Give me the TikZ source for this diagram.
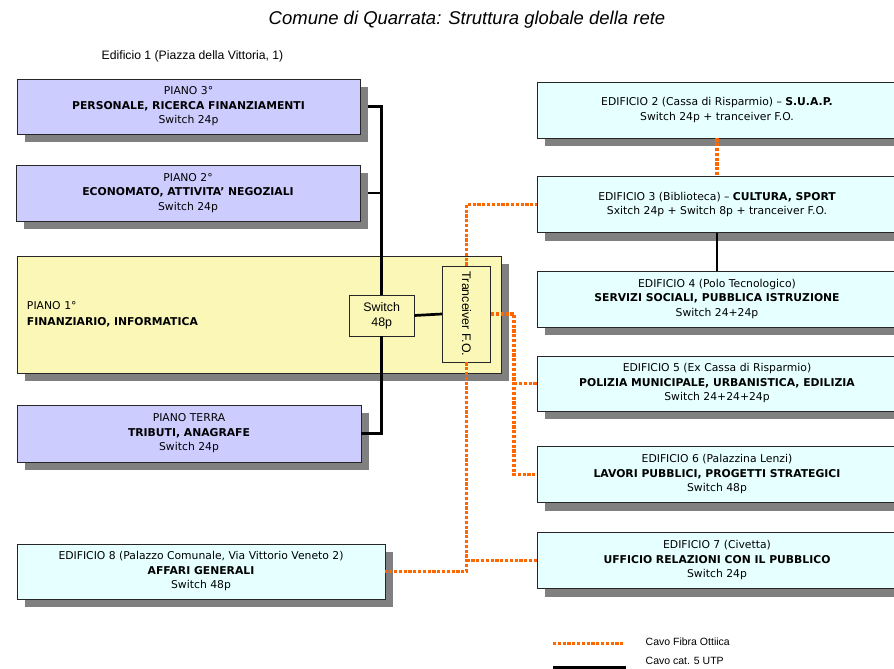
\documentclass[tikz,border=0pt]{standalone}
\usepackage{fontspec}
\setmainfont{DejaVu Sans}
\newfontfamily\arialFont{Liberation Sans}
\usepackage{graphicx}
\usetikzlibrary{arrows.meta, positioning, shadows}
\definecolor{lilla}{RGB}{204,204,255}
\definecolor{giallo}{RGB}{250,247,183}
\definecolor{azzurro}{RGB}{230,255,255}
\definecolor{ombra}{RGB}{128,128,128}
\definecolor{arancio}{RGB}{255,102,0}

\begin{document}
\begin{tikzpicture}[x=1pt, y=-1pt, thick]
      \tikzstyle{boxNode} = [rectangle, draw=black!85, line width=0.8pt, align=center, inner sep=0pt, font=\fontsize{10.8}{14.5}\selectfont, drop shadow={shadow xshift=8pt, shadow yshift=-8pt, fill=ombra, opacity=1, draw=none}]
      \tikzstyle{pianoNode} = [boxNode, fill=lilla, minimum width=344pt, minimum height=56pt]
      \tikzstyle{edificioNode} = [boxNode, fill=azzurro, minimum width=360pt, minimum height=56pt]
      \tikzstyle{innerNode} = [rectangle, draw=black!85, line width=0.8pt, fill=giallo, align=center, inner sep=0pt, font=\arialFont\fontsize{12.4}{15}\selectfont]
      \tikzstyle{utpLine} = [draw=black, line width=2.7pt]
      \tikzstyle{fibraLine} = [draw=arancio, line width=3.9pt, dash pattern=on 3.2pt off 1.6pt]
      \tikzstyle{labelNode} = [font=\arialFont\fontsize{12.2}{14}\selectfont]

      \useasboundingbox (0,0) rectangle (894,669);

      % Titolo
      \node at (467,20) (titolo) {\arialFont\itshape\fontsize{18.5}{22}\selectfont Comune di Quarrata: Struttura globale della rete};
      \node [labelNode] at (192.5,56) (ed1) {Edificio 1 (Piazza della Vittoria, 1)};

      % Edificio 1
      \node [pianoNode, minimum width=343pt, minimum height=55pt] at (188.5,106.5) (p3) {PIANO 3°\\\textbf{PERSONALE, RICERCA FINANZIAMENTI}\\Switch 24p};
      \node [pianoNode] at (188,193) (p2) {PIANO 2°\\\textbf{ECONOMATO, ATTIVITA’ NEGOZIALI}\\Switch 24p};
      \node [boxNode, fill=giallo, align=left, text width=464pt, inner xsep=10pt, minimum height=117pt, font=\fontsize{10.8}{16}\selectfont] at (259,314.5) (p1) {PIANO 1°\\\textbf{FINANZIARIO, INFORMATICA}};
      \node [pianoNode, minimum height=57pt] at (189,433.5) (pt) {PIANO TERRA\\\textbf{TRIBUTI, ANAGRAFE}\\Switch 24p};
      \node [innerNode, minimum width=64.5pt, minimum height=41pt] at (381.7,315.5) (sw) {Switch\\48p};
      \node [innerNode, minimum width=48.5pt, minimum height=96pt] at (466.5,314) (tr) {\rotatebox{-90}{Tranceiver F.O.}};

      % Altri edifici
      \node [edificioNode] at (717,110) (e2) {EDIFICIO 2 (Cassa di Risparmio) – \textbf{S.U.A.P.}\\Switch 24p + tranceiver F.O.};
      \node [edificioNode] at (717,204.5) (e3) {EDIFICIO 3 (Biblioteca) – \textbf{CULTURA, SPORT}\\Sxitch 24p + Switch 8p + tranceiver F.O.};
      \node [edificioNode] at (717,299) (e4) {EDIFICIO 4 (Polo Tecnologico)\\\textbf{SERVIZI SOCIALI, PUBBLICA ISTRUZIONE}\\Switch 24+24p};
      \node [edificioNode, minimum height=55pt] at (717,383.5) (e5) {EDIFICIO 5 (Ex Cassa di Risparmio)\\\textbf{POLIZIA MUNICIPALE, URBANISTICA, EDILIZIA}\\Switch 24+24+24p};
      \node [edificioNode] at (717,474.5) (e6) {EDIFICIO 6 (Palazzina Lenzi)\\\textbf{LAVORI PUBBLICI, PROGETTI STRATEGICI}\\Switch 48p};
      \node [edificioNode] at (717,560.5) (e7) {EDIFICIO 7 (Civetta)\\\textbf{UFFICIO RELAZIONI CON IL PUBBLICO}\\Switch 24p};
      \node [edificioNode, minimum width=368pt, minimum height=55pt] at (201,571.5) (e8) {EDIFICIO 8 (Palazzo Comunale, Via Vittorio Veneto 2)\\\textbf{AFFARI GENERALI}\\Switch 48p};

      % Cavi UTP
      \draw [utpLine] ([xshift=8pt]p3.east) -| (sw.north);
      \draw [utpLine] ([xshift=8pt]p2.east) -- (sw.north |- p2.east);
      \draw [utpLine] (pt.east) -| (sw.south);
      \draw [utpLine] (sw.east) -- (tr.west);
      \draw [utpLine] (e3.south) -- (e4.north);

      % Cavi fibra ottica
      \coordinate [right=23pt of tr.east] (nodoF);
      \draw [fibraLine] (tr.north) |- (e3.west);
      \draw [fibraLine] (e2.south) -- (e3.north);
      \draw [fibraLine] (tr.east) -- (nodoF) |- (e6.west);
      \draw [fibraLine] (nodoF |- e5.west) -- (e5.west);
      \draw [fibraLine] (tr.south) |- (e8.east);
      \draw [fibraLine] (tr.south |- e7.west) -- (e7.west);

      % Legenda
      \coordinate (legF1) at (553,643.5);
      \coordinate (legF2) at (623,643.5);
      \coordinate (legU1) at (553,668);
      \coordinate (legU2) at (626,668);
      \draw [fibraLine] (legF1) -- (legF2);
      \draw [utpLine, line width=5pt] (legU1) -- (legU2);
      \node [labelNode, font=\arialFont\fontsize{10.5}{12}\selectfont, anchor=west] at (642,642) (legF) {Cavo Fibra Ottiica};
      \node [labelNode, font=\arialFont\fontsize{10.5}{12}\selectfont, anchor=west] at (642,661) (legU) {Cavo cat. 5 UTP};

\end{tikzpicture}
\end{document}
